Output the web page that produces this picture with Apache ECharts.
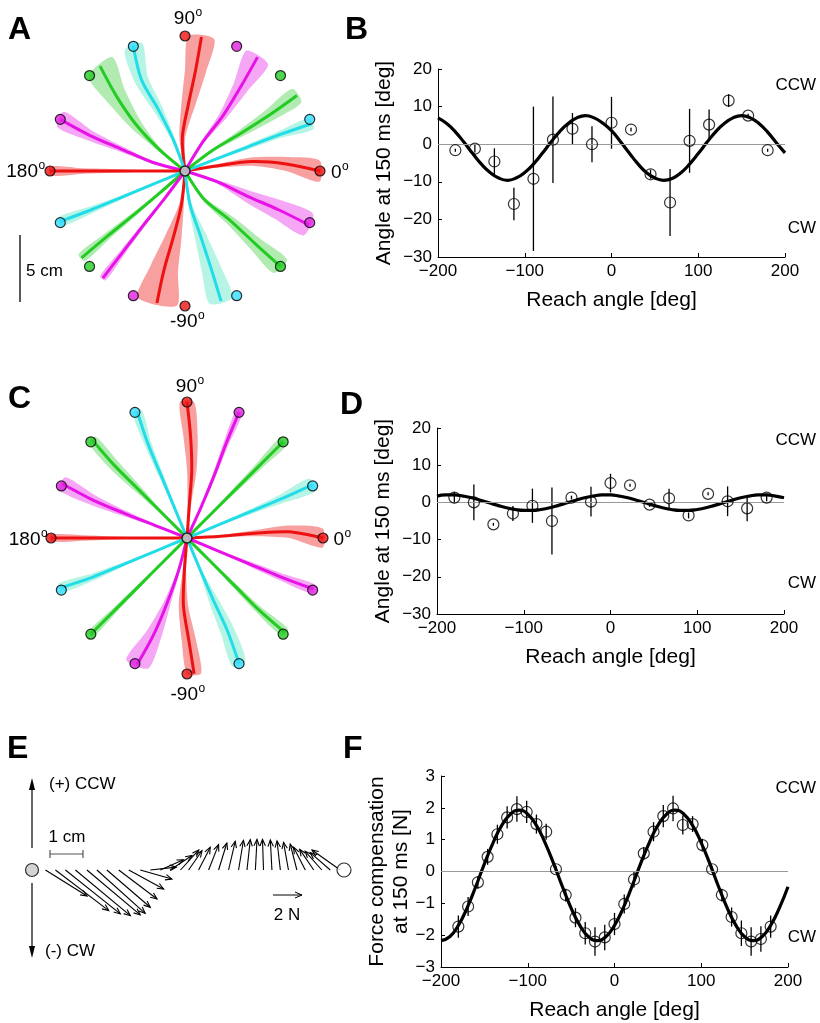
<!DOCTYPE html>
<html>
<head>
<meta charset="utf-8">
<script src="https://cdn.jsdelivr.net/npm/echarts/dist/echarts.min.js"></script>
<style>
html,body{margin:0;padding:0;background:#fff}
#main{width:820px;height:1023px}
</style>
</head>
<body>
<div id="main"></div>
<script>
// ---- A / C : hand paths, 16 targets every 22.5 deg, 10 cm away ----
var trajAngles = [0,22.5,45,67.5,90,112.5,135,157.5,180,202.5,225,247.5,270,292.5,315,337.5];
var trajRadii = [2.5,5,7.5,10];   // cm along the reach
// angular deviation of the mean path from the target direction [deg]
var aDev = [[9,8,4,0],[-1.5,-1.5,-1.5,-2],[-8,-11,-11.5,-11],[-9,-12,-11,-10],
            [4.5,-3,-6,-7],[-2,1,3,0],[5,1.5,-2.5,-6],[7.5,3.5,2,0],
            [0,0,0,0],[0,0,0,-0.5],[-4,-4.5,-5,-5],[-14,-15,-15,-15],
            [-6,-10,-12,-12],[-14,-9,-7.5,-7],[-11,-2.5,-1,0],[4,0.5,0,-1]];
// half width of the shaded band [deg]
var aBand = [[3,3.5,4,4.5],[2,2,2,2.5],[2,3,3.5,3.5],[2.5,3.5,4.5,5.5],
             [5,6,6,5.5],[3,4,4,4],[3,5,6,6.5],[2,2.5,3,3.5],
             [1,1.5,1.5,2],[1.5,1.5,2,2],[1.5,2,2,2],[1,1.5,1.5,1.5],
             [4,7,8,8.5],[3,5,5.5,5],[3,4,4,4],[3,5,5.5,5]];
var cDev = [[3,4,3.5,0],[0,0,0,0.5],[0,0,0,0],[-2,-1,0,0],
            [-4,-4,-2,0],[0,0,0,-1],[0,0,0,-1],[1,1,0.5,-1],
            [0,0,0,0],[0,0,0,-1],[0,0,0,0],[8,5.5,3.5,1],
            [-4.5,-3,1,3],[0,0.5,1,0],[0,0,0,1],[0,0,0,0.5]];
var cBand = [[1.5,2.5,3.5,4],[1.5,2,2.5,3],[1.5,2,2,2],[1,1.5,1.5,1.5],
             [3,4,4,3],[1.5,2,2,2],[2,3,3,2],[2,2.5,3,3],
             [1,1,1.5,1.5],[1.5,1.5,2,2],[1.5,1.5,1.5,1.5],[2,3,4.5,5],
             [3,4,4,3],[2,4,4,3],[1.5,2,2,2],[1.5,2,2,2]];

// ---- B / D : angle at 150 ms ----
var reachAngles = [-180,-157.5,-135,-112.5,-90,-67.5,-45,-22.5,0,22.5,45,67.5,90,112.5,135,157.5,180];
var bMean = [-1.6,-1.2,-4.6,-15.9,-9.2,1.2,4.1,0.0,5.7,3.9,-8.0,-15.5,0.9,5.2,11.6,7.6,-1.6];
var bErr  = [0.4,1.0,3.5,4.3,19.2,11.5,4.2,4.8,6.9,0.5,1.2,8.9,8.5,4.0,1.7,0.5,0.4];
var dMean = [1.3,0.0,-5.9,-3.0,-0.9,-5.0,1.3,0.2,5.2,4.6,-0.6,1.1,-3.5,2.3,0.3,-1.6,1.3];
var dErr  = [1.5,4.8,0.4,2.0,4.6,9.0,0.5,4.0,2.5,0.4,0.6,2.6,0.8,0.4,4.0,3.5,1.0];

// fitted curves, read every 10 deg
var fitAngles = [-200,-190,-180,-170,-160,-150,-140,-130,-120,-110,-100,-90,-80,-70,-60,-50,-40,-30,-20,-10,
                 0,10,20,30,40,50,60,70,80,90,100,110,120,130,140,150,160,170,180,190,200];
var bFit = [7.0,5.5,3.3,0.5,-2.5,-5.3,-7.5,-9.0,-9.6,-9.0,-7.5,-5.3,-2.5,0.5,3.3,5.5,7.0,7.6,7.0,5.6,
            3.6,0.8,-2.2,-5.1,-7.5,-9.0,-9.6,-9.1,-7.6,-5.3,-2.5,0.5,3.3,5.5,7.0,7.6,7.0,5.5,3.2,0.4,-2.3];
var dFit = [1.7,2.0,2.0,1.7,1.25,0.6,-0.1,-0.8,-1.45,-1.9,-2.15,-2.15,-1.9,-1.45,-0.8,-0.1,0.6,1.25,1.7,2.0,
            2.0,1.7,1.25,0.6,-0.1,-0.8,-1.45,-1.9,-2.15,-2.15,-1.9,-1.45,-0.8,-0.1,0.6,1.25,1.7,2.0,2.0,1.7,1.25];

// ---- F : force compensation ----
var fAngles = [-180,-168.75,-157.5,-146.25,-135,-123.75,-112.5,-101.25,-90,-78.75,-67.5,-56.25,-45,-33.75,-22.5,-11.25,
               0,11.25,22.5,33.75,45,56.25,67.5,78.75,90,101.25,112.5,123.75,135,146.25,157.5,168.75,180];
var fMean = [-1.73,-1.10,-0.34,0.46,1.17,1.70,1.96,1.87,1.49,1.25,0.07,-0.74,-1.45,-1.94,-2.20,-2.07,
             -1.65,-1.02,-0.25,0.57,1.25,1.74,1.98,1.46,1.49,0.83,0.07,-0.74,-1.43,-1.94,-2.20,-2.12,-1.73];
var fErr  = [0.35,0.3,0.2,0.25,0.3,0.35,0.4,0.35,0.3,0.25,0.1,0.2,0.3,0.35,0.45,0.4,
             0.35,0.3,0.25,0.2,0.3,0.35,0.4,0.3,0.25,0.2,0.1,0.2,0.3,0.4,0.45,0.4,0.35];
var fFit = [-2.17,-2.05,-1.69,-1.15,-0.48,0.24,0.9,1.45,1.8,1.93,1.8,1.45,0.9,0.24,-0.48,-1.15,-1.69,-2.05,-2.17,-2.05,
            -1.69,-1.15,-0.48,0.24,0.9,1.45,1.8,1.93,1.8,1.45,0.9,0.24,-0.48,-1.15,-1.69,-2.05,-2.17,-2.05,-1.69,-1.15,-0.48];

// ---- E : force vectors along the reach (position cm, force N) ----
var ePos = [0.43,0.75,1.07,1.39,1.76,2.08,2.40,2.78,3.10,3.47,3.79,4.11,4.43,4.76,
            5.02,5.34,5.66,5.98,6.30,6.62,6.89,7.16,7.42,7.69,7.96,8.22,8.49,8.76,9.03,9.29,9.56,9.88];
var eFx = [2.87,3.68,3.79,3.79,3.68,3.33,2.99,2.64,2.41,2.18,1.8,1.6,1.5,1.26,
           0.92,0.80,0.69,0.57,0.46,0.34,0.23,0.11,-0.07,-0.11,-0.23,-0.34,-0.46,-0.8,-0.97,-1.15,-1.38,-1.95];
var eFy = [-1.79,-2.80,-3.03,-3.15,-3.10,-2.99,-2.57,-2.0,-1.31,-0.62,0.2,0.7,1.0,1.38,
           1.33,1.56,1.75,1.86,1.98,2.05,2.09,2.11,2.11,2.07,2.0,1.91,1.79,1.56,1.42,1.29,1.2,1.38];
var eEnds = [0, 10];

var FONT = "'Liberation Sans', Arial, sans-serif";
var lineColors = ['#ee1111','#22dde8','#22cc22','#e811e8'];
var bandColors = ['rgba(242,80,80,0.55)','rgba(110,235,205,0.5)','rgba(100,215,100,0.5)','rgba(235,80,235,0.5)'];
var dotColors = ['#ee1111','#33ddff','#22cc22','#e020e0'];

function minus(v){ return v < 0 ? '\u2212' + (-v) : '' + v; }

function trajSeries(pi, dev, band){
  var targets = trajAngles.map(function(a){ return [10, a]; });
  return [{
    type:'custom', coordinateSystem:'polar', polarIndex:pi, data:targets, z:1,
    renderItem:function(params, api){
      var i = params.dataIndex, base = trajAngles[i];
      var up = [api.coord([0, base])], lo = [];
      for (var k = 0; k < trajRadii.length; k++){
        up.push(api.coord([trajRadii[k], base + dev[i][k] + band[i][k]]));
        lo.push(api.coord([trajRadii[k], base + dev[i][k] - band[i][k]]));
      }
      return {type:'polygon', shape:{points:up.concat(lo.reverse()), smooth:0.25},
              style:{fill:bandColors[i % 4]}};
    }
  },{
    type:'custom', coordinateSystem:'polar', polarIndex:pi, data:targets, z:2,
    renderItem:function(params, api){
      var i = params.dataIndex, base = trajAngles[i];
      var pts = [api.coord([0, base])];
      for (var k = 0; k < trajRadii.length; k++){
        pts.push(api.coord([trajRadii[k], base + dev[i][k]]));
      }
      return {type:'polyline', shape:{points:pts, smooth:0.3},
              style:{stroke:lineColors[i % 4], lineWidth:3, fill:null}};
    }
  },{
    type:'scatter', coordinateSystem:'polar', polarIndex:pi, z:3, symbolSize:10,
    data:trajAngles.map(function(a, i){
      return {value:[10, a], itemStyle:{color:dotColors[i % 4]}};
    }),
    itemStyle:{borderColor:'#000', borderWidth:1.2}
  },{
    type:'scatter', coordinateSystem:'polar', polarIndex:pi, z:4, symbolSize:10,
    data:[[0,0]], itemStyle:{color:'#c8c8c8', borderColor:'#000', borderWidth:1.5}
  }];
}

function statSeries(gi, xs, mean, err, fit){
  return [{
    type:'line', xAxisIndex:gi, yAxisIndex:gi, showSymbol:false, smooth:true, z:3,
    data:fitAngles.map(function(x, i){ return [x, fit[i]]; }),
    lineStyle:{color:'#000', width:3.2},
    markLine:{silent:true, symbol:'none', label:{show:false},
              lineStyle:{color:'#999', width:1, type:'solid'}, data:[{yAxis:0}]}
  },{
    type:'custom', xAxisIndex:gi, yAxisIndex:gi, z:4,
    data:xs.map(function(x, i){ return [x, mean[i] - err[i], mean[i] + err[i]]; }),
    encode:{x:0, y:[1,2]},
    renderItem:function(params, api){
      var p1 = api.coord([api.value(0), api.value(1)]);
      var p2 = api.coord([api.value(0), api.value(2)]);
      return {type:'line', shape:{x1:p1[0], y1:p1[1], x2:p2[0], y2:p2[1]},
              style:{stroke:'#000', lineWidth:1.3}};
    }
  },{
    type:'scatter', xAxisIndex:gi, yAxisIndex:gi, z:5, symbolSize:11,
    data:xs.map(function(x, i){ return [x, mean[i]]; }),
    itemStyle:{color:'rgba(0,0,0,0)', borderColor:'#000', borderWidth:1.2}
  }];
}

function xAx(gi){
  return {gridIndex:gi, type:'value', min:-200, max:200, interval:100,
    axisLine:{onZero:false, lineStyle:{color:'#000', width:1}},
    axisTick:{inside:true, length:4, lineStyle:{color:'#000'}},
    axisLabel:{color:'#000', fontSize:17, fontFamily:FONT, margin:6, formatter:minus},
    splitLine:{show:false},
    name:'Reach angle [deg]', nameLocation:'middle', nameGap:33, nameMoveOverlap:false,
    nameTextStyle:{color:'#000', fontSize:21, fontFamily:FONT}};
}
function yAx(gi, min, max, step, name, gap){
  return {gridIndex:gi, type:'value', min:min, max:max, interval:step,
    axisLine:{show:true, onZero:false, lineStyle:{color:'#000', width:1}},
    axisTick:{show:true, inside:true, length:4, lineStyle:{color:'#000'}},
    axisLabel:{color:'#000', fontSize:17, fontFamily:FONT, margin:6, formatter:minus},
    splitLine:{show:false},
    name:name, nameLocation:'middle', nameGap:gap, nameMoveOverlap:false,
    nameTextStyle:{color:'#000', fontSize:21, fontFamily:FONT, lineHeight:24}};
}

// E: arrows drawn from the path with the force scale of the y axis
var eSeries = [{
  type:'custom', xAxisIndex:3, yAxisIndex:3, z:2,
  data:ePos.map(function(p){ return [p, 0]; }),
  renderItem:function(params, api){
    var i = params.dataIndex;
    var t = api.coord([ePos[i], 0]);
    var k = api.size([0, 1])[1];
    var h = [t[0] + eFx[i] * k, t[1] - eFy[i] * k];
    var a = Math.atan2(h[1] - t[1], h[0] - t[0]), L = 7;
    var p1 = [h[0] - L * Math.cos(a - 0.4), h[1] - L * Math.sin(a - 0.4)];
    var p2 = [h[0] - L * Math.cos(a + 0.4), h[1] - L * Math.sin(a + 0.4)];
    return {type:'group', children:[
      {type:'line', shape:{x1:t[0], y1:t[1], x2:h[0], y2:h[1]}, style:{stroke:'#000', lineWidth:1.1}},
      {type:'polyline', shape:{points:[p1, h, p2]}, style:{stroke:'#000', lineWidth:1.1, fill:null}}
    ]};
  }
},{
  type:'scatter', xAxisIndex:3, yAxisIndex:3, z:3,
  data:[{value:[eEnds[0],0], symbolSize:13, itemStyle:{color:'#c8c8c8'}},
        {value:[eEnds[1],0], symbolSize:14, itemStyle:{color:'#fff'}}],
  itemStyle:{borderColor:'#000', borderWidth:1.2}
}];

function txt(x, y, s, size, align, weight){
  return {type:'text', x:x, y:y, z:10, style:{text:s, fill:'#000', fontSize:size, fontFamily:FONT,
          fontWeight:weight || 'normal', align:align || 'left', verticalAlign:'middle'}};
}
function degTxt(x, y, s){
  return [txt(x, y, s, 19, 'right'), txt(x + 0.5, y - 6, 'o', 12, 'left')];
}
function seg(x1, y1, x2, y2, c, w){
  return {type:'line', z:10, shape:{x1:x1, y1:y1, x2:x2, y2:y2}, style:{stroke:c || '#000', lineWidth:w || 1.2}};
}

var graphics = [
  txt(8, 30, 'A', 32, 'left', 'bold'), txt(345, 30, 'B', 32, 'left', 'bold'),
  txt(8, 399, 'C', 32, 'left', 'bold'), txt(340, 405, 'D', 32, 'left', 'bold'),
  txt(7, 749, 'E', 32, 'left', 'bold'), txt(343, 749, 'F', 32, 'left', 'bold'),
  txt(816, 85, 'CCW', 17, 'right'), txt(816, 228, 'CW', 17, 'right'),
  txt(816, 440, 'CCW', 17, 'right'), txt(816, 583, 'CW', 17, 'right'),
  txt(816, 788, 'CCW', 17, 'right'), txt(816, 937, 'CW', 17, 'right'),
  seg(20, 235, 20, 302, '#000', 1.3), txt(26, 271, '5 cm', 17, 'left'),
  // E annotations
  seg(32, 848, 32, 788, '#000', 1.2),
  {type:'polygon', z:10, shape:{points:[[32,778],[29,790],[35,790]]}, style:{fill:'#000'}},
  seg(32, 883, 32, 947, '#000', 1.2),
  {type:'polygon', z:10, shape:{points:[[32,958],[29,946],[35,946]]}, style:{fill:'#000'}},
  txt(49, 784, '(+) CCW', 17, 'left'), txt(45, 951, '(-) CW', 17, 'left'),
  seg(50, 854, 83, 854, '#555', 1.2), seg(50, 850, 50, 858, '#555', 1.2), seg(83, 850, 83, 858, '#555', 1.2),
  txt(67, 837, '1 cm', 17, 'center'),
  seg(273, 895, 302, 895, '#000', 1),
  {type:'polyline', z:10, shape:{points:[[295,892],[302,895],[295,898]]}, style:{stroke:'#000', lineWidth:1, fill:null}},
  txt(287, 915, '2 N', 17, 'center')
].concat(degTxt(195, 19, '90'), degTxt(341.5, 173, '0'), degTxt(38, 172, '180'), degTxt(197.5, 322, '-90'),
         degTxt(197, 387, '90'), degTxt(344, 540, '0'), degTxt(40.5, 540, '180'), degTxt(198, 695, '-90'));

var myChart = echarts.init(document.getElementById('main'));
var option = {
  animation:false,
  backgroundColor:'#fff',
  textStyle:{fontFamily:FONT},
  polar:[{center:[185,171], radius:135}, {center:[187,538], radius:136}],
  angleAxis:[
    {polarIndex:0, type:'value', min:0, max:360, startAngle:0, clockwise:false, show:false},
    {polarIndex:1, type:'value', min:0, max:360, startAngle:0, clockwise:false, show:false}
  ],
  radiusAxis:[
    {polarIndex:0, type:'value', min:0, max:10, show:false},
    {polarIndex:1, type:'value', min:0, max:10, show:false}
  ],
  grid:[
    {left:438, top:69, width:347, height:188, outerBoundsMode:'none'},
    {left:437, top:428, width:347, height:186, outerBoundsMode:'none'},
    {left:441, top:776, width:347, height:191, outerBoundsMode:'none'},
    {left:32, top:783, width:312, height:174, outerBoundsMode:'none'}
  ],
  xAxis:[xAx(0), xAx(1), xAx(2), {gridIndex:3, type:'value', min:0, max:10, show:false}],
  yAxis:[
    yAx(0, -30, 20, 10, 'Angle at 150 ms [deg]', 42),
    yAx(1, -30, 20, 10, 'Angle at 150 ms [deg]', 42),
    yAx(2, -3, 3, 1, 'Force compensation\nat 150 ms [N]', 28),
    {gridIndex:3, type:'value', min:-6, max:6, show:false}
  ],
  graphic:graphics,
  series:[].concat(
    trajSeries(0, aDev, aBand),
    trajSeries(1, cDev, cBand),
    statSeries(0, reachAngles, bMean, bErr, bFit),
    statSeries(1, reachAngles, dMean, dErr, dFit),
    statSeries(2, fAngles, fMean, fErr, fFit),
    eSeries
  )
};
myChart.setOption(option);
window.onresize = myChart.resize;
</script>
</body>
</html>
